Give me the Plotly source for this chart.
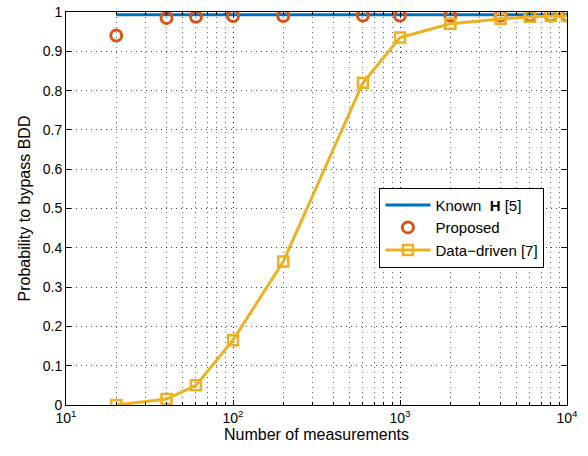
import plotly.graph_objects as go

n_meas = [20, 40, 60, 100, 200, 600, 1000, 2000, 4000, 6000, 8000, 10000]
known_h = [0.993] * len(n_meas)
proposed = [0.94, 0.985, 0.988, 0.99, 0.99, 0.991, 0.991, 0.991, 0.991, 0.991, 0.991, 0.991]
data_driven = [0.0, 0.015, 0.05, 0.165, 0.365, 0.82, 0.935, 0.97, 0.982, 0.988, 0.99, 0.99]

x_tickvals = [10, 100, 1000, 10000]
x_ticktext = ["10<sup>1</sup>", "10<sup>2</sup>", "10<sup>3</sup>", "10<sup>4</sup>"]
y_tickvals = [0, 0.1, 0.2, 0.3, 0.4, 0.5, 0.6, 0.7, 0.8, 0.9, 1]
y_ticktext = ["0", "0.1", "0.2", "0.3", "0.4", "0.5", "0.6", "0.7", "0.8", "0.9", "1"]

fig = go.Figure()
fig.add_trace(go.Scatter(x=n_meas, y=known_h, mode="lines", name="Known  <b>H</b> [5]",
                         line=dict(color="#0072BD", width=3)))
fig.add_trace(go.Scatter(x=n_meas, y=proposed, mode="markers", name="Proposed",
                         marker=dict(symbol="circle-open", size=11, color="#D95319",
                                     line=dict(width=3, color="#D95319"))))
fig.add_trace(go.Scatter(x=n_meas, y=data_driven, mode="lines+markers", name="Data\u2212driven [7]",
                         line=dict(color="#EDB120", width=3),
                         marker=dict(symbol="square-open", size=10, color="#EDB120",
                                     line=dict(width=2.5, color="#EDB120"))))

axis_common = dict(showline=True, linecolor="black", linewidth=1, mirror="ticks",
                   ticks="inside", ticklen=5, tickcolor="black",
                   showgrid=True, gridcolor="rgba(0,0,0,0.7)", griddash="1px,4px", gridwidth=1,
                   zeroline=False, tickfont=dict(size=14, color="black"), automargin=False)

fig.update_xaxes(type="log", range=[1, 4], tickvals=x_tickvals, ticktext=x_ticktext,
                 title=dict(text="Number of measurements", font=dict(size=16, color="black"), standoff=4),
                 minor=dict(showgrid=True, gridcolor="rgba(0,0,0,0.6)", griddash="1px,4px",
                            ticks="inside", ticklen=3, tickcolor="black", dtick="D1"),
                 **axis_common)
fig.update_yaxes(range=[0, 1], tickvals=y_tickvals, ticktext=y_ticktext,
                 title=dict(text="Probability to bypass BDD", font=dict(size=16, color="black"), standoff=8),
                 **axis_common)

fig.update_layout(
    width=588, height=456,
    margin=dict(l=66, r=21, t=12, b=51),
    plot_bgcolor="white", paper_bgcolor="white",
    font=dict(family="Liberation Sans, Arial, sans-serif", color="black"),
    showlegend=True,
    legend=dict(x=0.955, y=0.553, xanchor="right", yanchor="top",
                bgcolor="white", bordercolor="black", borderwidth=1,
                font=dict(size=15, color="black"), tracegroupgap=0, itemwidth=45),
)

fig.write_html("out.html", config={"displayModeBar": False},
               post_script="document.body.style.margin='0';document.body.style.overflow='hidden';")
